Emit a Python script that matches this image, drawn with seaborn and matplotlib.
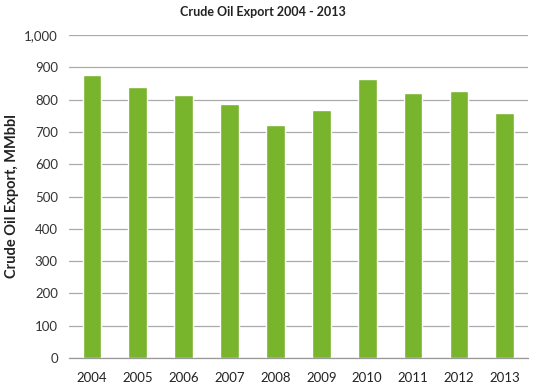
import matplotlib
matplotlib.use("Agg")
import matplotlib.pyplot as plt
import seaborn as sns
import pandas as pd
import numpy as np

years = ["2004", "2005", "2006", "2007", "2008", "2009", "2010", "2011", "2012", "2013"]
exports = [875, 840, 813, 788, 721, 767, 863, 820, 827, 760]
yticks = [0, 100, 200, 300, 400, 500, 600, 700, 800, 900, 1000]
ytick_labels = ["0", "100", "200", "300", "400", "500", "600", "700", "800", "900", "1,000"]

sns.set_theme(style="white")
plt.rcParams['font.family'] = ['Lato', 'DejaVu Sans']

df = pd.DataFrame({"Year": years, "Export": exports})

fig = plt.figure(figsize=(5.41, 3.85), dpi=100)
ax = fig.add_axes([0.1275, 0.070, 0.848, 0.839])

sns.barplot(data=df, x="Year", y="Export", color="#78b42c", saturation=1,
            width=0.41, ax=ax)

ax.set_ylim(0, 1000)
ax.set_xlim(-0.5, len(years) - 0.5)
ax.set_yticks(yticks)
ax.set_yticklabels(ytick_labels, fontsize=9.5, color="#333333")
ax.set_xticks(range(len(years)))
ax.set_xticklabels(years, fontsize=9.5, color="#222222")
ax.tick_params(axis="x", which="major", length=0, pad=10)
ax.set_xticks(np.arange(0.5, len(years) - 0.5, 1), minor=True)
ax.tick_params(axis="x", which="minor", length=3, color="#999999", direction="out")
ax.tick_params(axis="y", length=3, color="#aaaaaa", pad=5)

ax.yaxis.grid(True, color="#aaaaaa", linewidth=0.9)
ax.set_axisbelow(True)
for s in ["top", "right", "left"]:
    ax.spines[s].set_visible(False)
ax.spines["bottom"].set_color("#999999")
ax.spines["bottom"].set_linewidth(0.9)

ax.set_xlabel("")
ax.set_ylabel("Crude Oil Export, MMbbl", fontsize=10.5, fontweight="bold", color="#222222", labelpad=4)
fig.suptitle("Crude Oil Export 2004 - 2013", x=0.486, y=0.985, fontsize=9, fontweight="bold", color="#222222")

fig.savefig("out.png", dpi=100)
